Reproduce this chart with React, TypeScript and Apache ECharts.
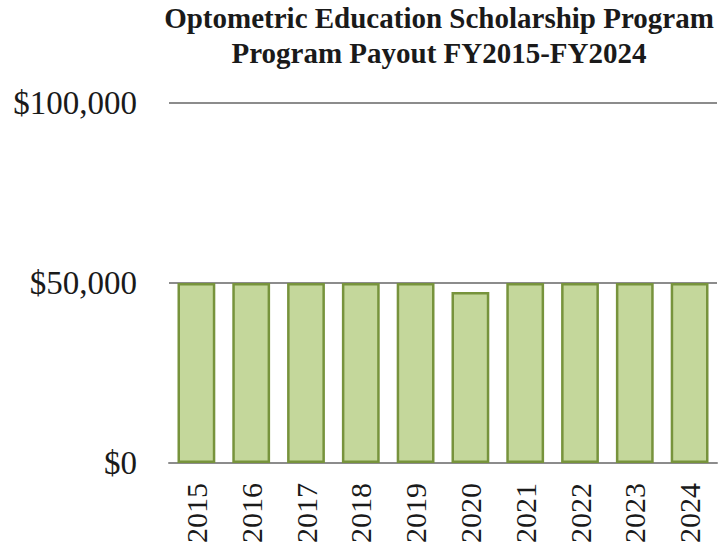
import React, { useEffect, useRef } from "react";
import * as echarts from "echarts";

const categories = ["2015", "2016", "2017", "2018", "2019", "2020", "2021", "2022", "2023", "2024"];
const payouts = [50000, 50000, 50000, 50000, 50000, 47500, 50000, 50000, 50000, 50000];
const yTicks = [0, 50000, 100000];
const titleLines = ["Optometric Education Scholarship Program", "Program Payout FY2015-FY2024"];

const FONT = "'Liberation Serif', 'Times New Roman', serif";

export default function App() {
  const ref = useRef<HTMLDivElement>(null);
  useEffect(() => {
    if (!ref.current) return;
    const chart = echarts.init(ref.current, null, { renderer: "svg" });
    chart.setOption({
      animation: false,
      backgroundColor: "#ffffff",
      title: {
        text: titleLines.join("\n"),
        left: 434,
        top: -5,
        textAlign: "center",
        textStyle: {
          fontFamily: FONT,
          fontWeight: "bold",
          fontSize: 29,
          lineHeight: 35,
          color: "#1a1a1a",
        },
      },
      grid: { left: 169, right: 2, top: 103, bottom: 88, containLabel: false },
      xAxis: {
        type: "category",
        data: categories,
        axisLine: { lineStyle: { color: "#8c8c8c", width: 2 } },
        axisTick: { show: false },
        axisLabel: {
          rotate: 90,
          margin: 20,
          fontFamily: FONT,
          fontSize: 30,
          color: "#1a1a1a",
        },
      },
      yAxis: {
        type: "value",
        min: yTicks[0],
        max: yTicks[yTicks.length - 1],
        interval: yTicks[1] - yTicks[0],
        axisLine: { show: false },
        axisTick: { show: false },
        splitLine: { lineStyle: { color: "#8c8c8c", width: 2 } },
        axisLabel: {
          margin: 32,
          fontFamily: FONT,
          fontSize: 33,
          color: "#1a1a1a",
          formatter: (v: number) => "$" + v.toLocaleString("en-US"),
        },
      },
      series: [
        {
          type: "bar",
          data: payouts,
          barWidth: "69%",
          itemStyle: { color: "#c4d79b", borderColor: "#77933c", borderWidth: 2.5 },
        },
      ],
    });
    return () => chart.dispose();
  }, []);
  return <div ref={ref} style={{ position: "fixed", left: 0, top: 0, width: 719, height: 551 }} />;
}
